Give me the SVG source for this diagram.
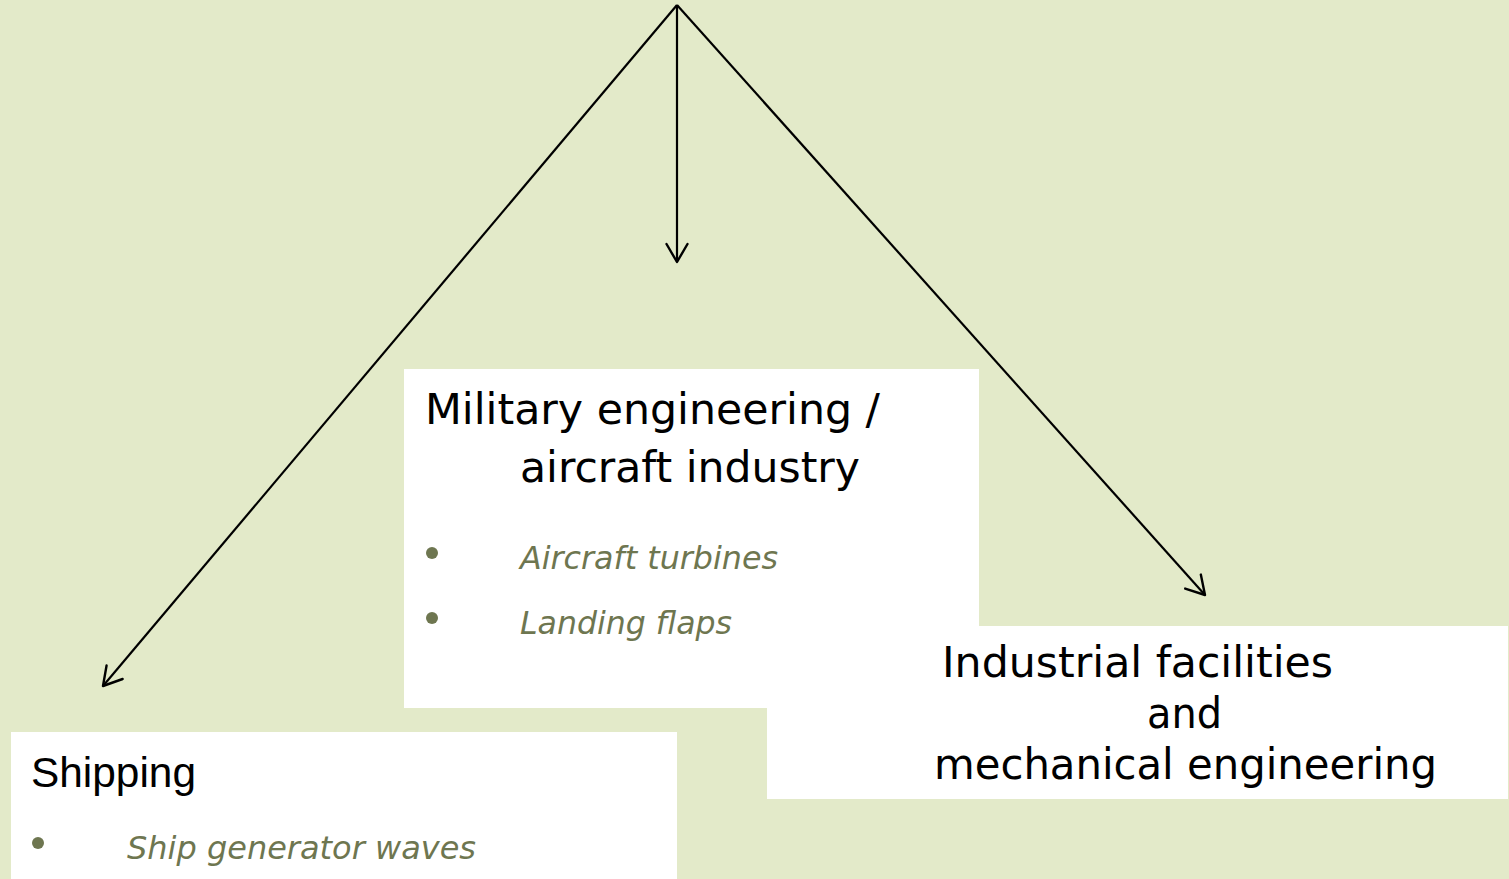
<svg xmlns="http://www.w3.org/2000/svg" width="1509" height="879" viewBox="0 0 1509 879">
<defs>
<marker id="arr" viewBox="0 0 24 24" refX="21" refY="12" markerWidth="24" markerHeight="24" markerUnits="userSpaceOnUse" orient="auto">
<path d="M3,1.5 L21,12 L3,22.5" fill="none" stroke="#000" stroke-width="2.4" stroke-linecap="round" stroke-linejoin="round"/>
</marker>
</defs>
<style>
.box{fill:#fff}
.title{font-family:"DejaVu Sans","Liberation Sans",sans-serif;font-size:42px;fill:#000}
.arial{font-family:"Liberation Sans",Arial,sans-serif;font-size:42px;fill:#000}
.item{font-family:"DejaVu Sans","Liberation Sans",sans-serif;font-size:32px;font-style:italic;fill:#6E7650}
.bullet{fill:#6E7650}
.conn{stroke:#000;stroke-width:2.2;fill:none;marker-end:url(#arr)}
</style>
<rect width="1509" height="879" fill="#E3EAC9"/>
<g id="node-military">
<rect class="box" x="404" y="369" width="575" height="339"/>
<text class="title" x="425" y="424" textLength="455" lengthAdjust="spacingAndGlyphs">Military engineering /</text>
<text class="title" x="520" y="482" textLength="340" lengthAdjust="spacingAndGlyphs">aircraft industry</text>
<circle class="bullet" cx="432" cy="553" r="6"/>
<text class="item" x="520" y="569" textLength="258" lengthAdjust="spacingAndGlyphs">Aircraft turbines</text>
<circle class="bullet" cx="432" cy="618" r="6"/>
<text class="item" x="520" y="634" textLength="212" lengthAdjust="spacingAndGlyphs">Landing flaps</text>
</g>
<g id="node-industrial">
<rect class="box" x="767" y="626" width="741" height="173"/>
<text class="title" x="942" y="677" textLength="391" lengthAdjust="spacingAndGlyphs">Industrial facilities</text>
<text class="title" x="1147" y="728" textLength="75" lengthAdjust="spacingAndGlyphs">and</text>
<text class="title" x="934" y="779" textLength="503" lengthAdjust="spacingAndGlyphs">mechanical engineering</text>
</g>
<g id="node-shipping">
<rect class="box" x="11" y="732" width="666" height="147"/>
<text class="arial" x="31" y="787" textLength="165" lengthAdjust="spacingAndGlyphs">Shipping</text>
<circle class="bullet" cx="38" cy="843" r="6"/>
<text class="item" x="127" y="859" textLength="349" lengthAdjust="spacingAndGlyphs">Ship generator waves</text>
</g>
<g id="connectors">
<line class="conn" x1="677" y1="5" x2="103" y2="686"/>
<line class="conn" x1="677" y1="5" x2="677" y2="262"/>
<line class="conn" x1="677" y1="5" x2="1205" y2="595"/>
</g>
</svg>
